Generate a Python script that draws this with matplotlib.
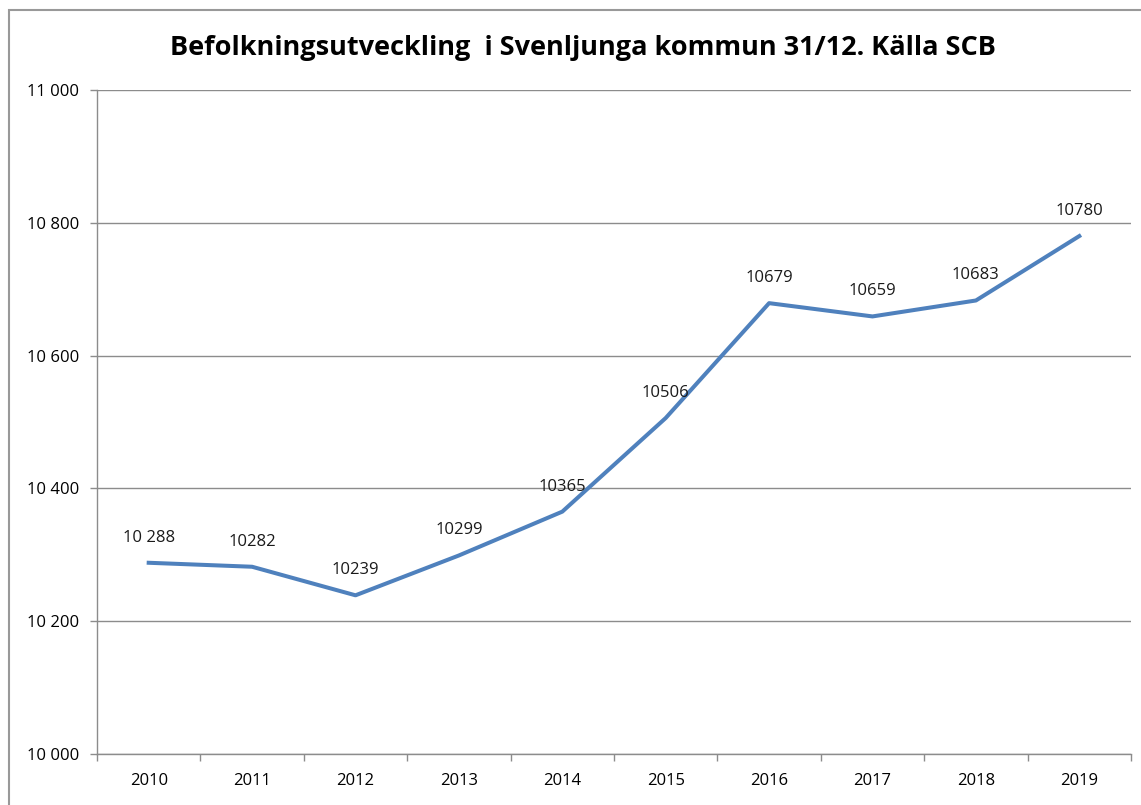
import matplotlib
matplotlib.use('Agg')
import matplotlib.pyplot as plt
import numpy as np
from matplotlib.patches import Rectangle
from matplotlib.ticker import FixedLocator, FuncFormatter

plt.rcParams['font.family'] = ['Open Sans', 'DejaVu Sans']

# data
years = ['2010', '2011', '2012', '2013', '2014', '2015', '2016', '2017', '2018', '2019']
invanare = [10288, 10282, 10239, 10299, 10365, 10506, 10679, 10659, 10683, 10780]
etiketter = ['10 288', '10282', '10239', '10299', '10365', '10506', '10679', '10659', '10683', '10780']

W, H = 1141, 805
fig = plt.figure(figsize=(W / 100, H / 100), dpi=100)

# ram runt diagrammet
fig.patches.append(Rectangle((9 / W, -0.1), 1.2, 1 - 10 / H + 0.1, transform=fig.transFigure,
                             fill=False, edgecolor='#999999', linewidth=1.5))

ax = fig.add_axes([97 / W, 1 - 754 / H, (1131 - 97) / W, (754 - 90) / H])

x = np.arange(len(years))
ax.plot(x, invanare, color='#4F81BD', lw=2.9, solid_joinstyle='round')

for xi, yi, txt in zip(x, invanare, etiketter):
    ax.annotate(txt, (xi, yi), xytext=(0, 18), textcoords='offset points',
                ha='center', va='center', fontsize=12, color='#1a1a1a')

ax.set_xlim(-0.5, len(years) - 0.5)
ax.set_ylim(10000, 11000)

ax.set_xticks(x)
ax.set_xticklabels(years)
ax.xaxis.set_minor_locator(FixedLocator(np.arange(-0.5, len(years), 1)))
ax.tick_params(axis='x', which='major', length=0, pad=13.5, labelsize=12)
ax.tick_params(axis='x', which='minor', length=5, color='#8c8c8c', width=1)

ax.set_yticks(np.arange(10000, 11001, 200))
ax.yaxis.set_major_formatter(FuncFormatter(lambda v, p: f'{int(v):,}'.replace(',', ' ')))
ax.tick_params(axis='y', length=5, color='#8c8c8c', width=1, pad=8, labelsize=12)

ax.grid(axis='y', color='#8c8c8c', lw=1)
ax.set_axisbelow(True)
for s in ['top', 'right']:
    ax.spines[s].set_visible(False)
for s in ['left', 'bottom']:
    ax.spines[s].set_color('#8c8c8c')
    ax.spines[s].set_linewidth(1)

fig.text(0.511, 1 - 48 / H, 'Befolkningsutveckling  i Svenljunga kommun 31/12. Källa SCB',
         ha='center', va='center', fontsize=19.5, fontweight='bold')

fig.savefig('out.png', dpi=100)
